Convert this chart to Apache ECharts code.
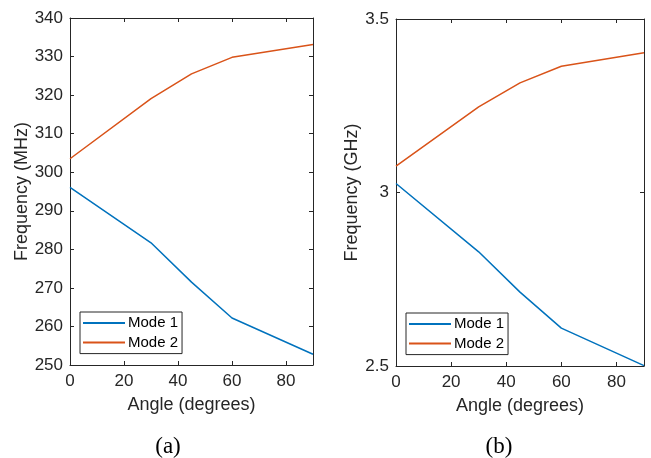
<!DOCTYPE html>
<html>
<head>
<meta charset="utf-8">
<script src="https://cdn.jsdelivr.net/npm/echarts@6/dist/echarts.min.js"></script>
<style>
  html, body { margin: 0; padding: 0; background: #fff; }
  #main { width: 651px; height: 458px; }
</style>
</head>
<body>
<div id="main"></div>
<script>
// angle samples (degrees)
var angles = [0, 30, 45, 60, 90];
// (a) MHz
var modeA1 = [296.1, 281.7, 271.5, 262.2, 252.8];
var modeA2 = [303.5, 319.1, 325.5, 329.8, 333.1];
// (b) GHz
var modeB1 = [3.026, 2.829, 2.713, 2.609, 2.501];
var modeB2 = [3.076, 3.247, 3.316, 3.364, 3.403];

var seriesNames = ['Mode 1', 'Mode 2'];
var captions = ['(a)', '(b)'];

var ink = '#262626';
var blue = '#0072BD', orange = '#D95319';
var font = 'Liberation Sans, Arial, Helvetica, sans-serif';
var serif = 'Liberation Serif, Times New Roman, serif';

function pairs(xs, ys) {
  var out = [];
  for (var i = 0; i < xs.length; i++) out.push([xs[i], ys[i]]);
  return out;
}

function xAx(g, top) {
  return {
    type: 'value', gridIndex: g, min: 0, max: 90, interval: 20,
    position: top ? 'top' : 'bottom',
    name: top ? '' : 'Angle (degrees)', nameLocation: 'middle', nameGap: 31,
    nameTextStyle: { color: ink, fontSize: 18, fontFamily: font },
    axisLine: { show: true, onZero: false, lineStyle: { color: ink, width: 1 } },
    axisTick: { show: true, inside: true, length: 4, lineStyle: { color: ink } },
    axisLabel: { show: !top, color: ink, fontSize: 17, fontFamily: font, margin: 8, showMaxLabel: false },
    splitLine: { show: false }
  };
}

function yAx(g, right, min, max, step, name, gap) {
  return {
    type: 'value', gridIndex: g, min: min, max: max, interval: step,
    position: right ? 'right' : 'left',
    name: right ? '' : name, nameLocation: 'middle', nameGap: gap,
    nameTextStyle: { color: ink, fontSize: 18, fontFamily: font },
    axisLine: { show: true, onZero: false, lineStyle: { color: ink, width: 1 } },
    axisTick: { show: true, inside: true, length: 4, lineStyle: { color: ink } },
    axisLabel: { show: !right, color: ink, fontSize: 17, fontFamily: font, margin: 7 },
    splitLine: { show: false }
  };
}

function line(name, data, color, xi, yi) {
  return {
    name: name, type: 'line', data: data, xAxisIndex: xi, yAxisIndex: yi,
    showSymbol: false, symbol: 'none', animation: false,
    lineStyle: { color: color, width: 1.5 }, itemStyle: { color: color }
  };
}

function legend(left, top) {
  return {
    data: seriesNames, orient: 'vertical', left: left, top: top,
    backgroundColor: '#fff', borderColor: ink, borderWidth: 1, borderRadius: 0,
    padding: [3, 4, 3, 3], itemGap: 3.6, itemWidth: 42, itemHeight: 2,
    icon: 'rect', selectedMode: false,
    textStyle: { color: '#000', fontSize: 15, lineHeight: 16, fontFamily: font, padding: [0, 0, 0, -2] }
  };
}

var chart = echarts.init(document.getElementById('main'));
chart.setOption({
  animation: false,
  backgroundColor: '#fff',
  grid: [
    { left: 70, right: 338, top: 18, bottom: 93 },
    { left: 396, right: 7, top: 19, bottom: 92 }
  ],
  title: [
    { text: captions[0], left: 168, top: 435, padding: 0, textAlign: 'center',
      textStyle: { fontFamily: serif, fontWeight: 'normal', fontSize: 23, color: '#000' } },
    { text: captions[1], left: 499, top: 435, padding: 0, textAlign: 'center',
      textStyle: { fontFamily: serif, fontWeight: 'normal', fontSize: 23, color: '#000' } }
  ],
  legend: [legend(80, 312), legend(406, 313)],
  xAxis: [xAx(0, false), xAx(0, true), xAx(1, false), xAx(1, true)],
  yAxis: [
    yAx(0, false, 250, 340, 10, 'Frequency (MHz)', 37),
    yAx(0, true, 250, 340, 10, '', 0),
    yAx(1, false, 2.5, 3.5, 0.5, 'Frequency (GHz)', 33),
    yAx(1, true, 2.5, 3.5, 0.5, '', 0)
  ],
  series: [
    line(seriesNames[0], pairs(angles, modeA1), blue, 0, 0),
    line(seriesNames[1], pairs(angles, modeA2), orange, 0, 0),
    line(seriesNames[0], pairs(angles, modeB1), blue, 2, 2),
    line(seriesNames[1], pairs(angles, modeB2), orange, 2, 2)
  ]
});
</script>
</body>
</html>
